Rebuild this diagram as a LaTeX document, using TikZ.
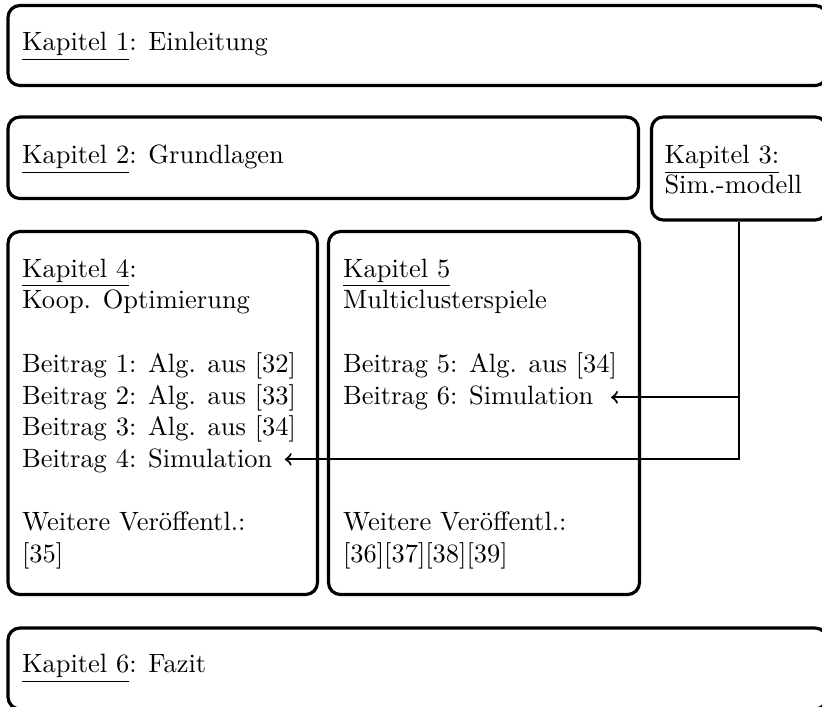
\documentclass[tikz,border=0pt]{standalone}
\usepackage{fontspec}
\usetikzlibrary{fit}
\begin{document}
\begin{tikzpicture}[x=0.378pt, y=-0.378pt,
  box/.style={draw, very thick, rounded corners=4.5pt, inner sep=0pt},
  txt/.style={anchor=base west, inner sep=0pt},
  link/.style={thick, ->}]
\useasboundingbox (0,0) rectangle (822,706);

% chapter frames
\node[box, fit={(8,5.5) (827,85.5)}] (k1) {};
\node[box, fit={(8,117) (638.5,198.5)}] (k2) {};
\node[box, fit={(651.5,117) (827,220)}] (k3) {};
\node[box, fit={(8,231.5) (317.5,594.5)}] (k4) {};
\node[box, fit={(328.5,231.5) (639.5,594.5)}] (k5) {};
\node[box, fit={(8,628) (827,709)}] (k6) {};

% chapter 1 and 2
\node[txt] (t1) at (21.5,50.5) {\underline{Kapitel 1}: Einleitung};
\node[txt] (t2) at (21.5,163.5) {\underline{Kapitel 2}: Grundlagen};

% chapter 3
\node[txt] (t3a) at (664,163.5) {\underline{Kapitel 3:}};
\node[txt] (t3b) at (664,193) {Sim.-modell};

% chapter 4
\node[txt] (t4a) at (21.5,277) {\underline{Kapitel 4}:};
\node[txt] (t4b) at (21.5,308.5) {Koop. Optimierung};
\node[txt] (t4c) at (21.5,372) {Beitrag 1: Alg. aus [32]};
\node[txt] (t4d) at (21.5,404) {Beitrag 2: Alg. aus [33]};
\node[txt] (t4e) at (21.5,435.5) {Beitrag 3: Alg. aus [34]};
\node[txt] (t4f) at (21.5,467) {Beitrag 4: Simulation};
\node[txt] (t4g) at (21.5,530) {Weitere Veröffentl.:};
\node[txt] (t4h) at (21.5,562) {[35]};

% chapter 5
\node[txt] (t5a) at (342.5,277) {\underline{Kapitel 5}};
\node[txt] (t5b) at (342.5,308.5) {Multiclusterspiele};
\node[txt] (t5c) at (342.5,372) {Beitrag 5: Alg. aus [34]};
\node[txt] (t5d) at (342.5,404) {Beitrag 6: Simulation};
\node[txt] (t5g) at (342.5,530) {Weitere Veröffentl.:};
\node[txt] (t5h) at (342.5,562) {[36][37][38][39]};

% chapter 6
\node[txt] (t6) at (21.5,672.5) {\underline{Kapitel 6}: Fazit};

% simulation model feeds both simulation contributions
\coordinate (split) at (k3.south |- 0,397.3);
\coordinate (turn) at (k3.south |- 0,459.3);
\draw[link] (k3.south) -- (turn) -- ([xshift=4.5pt]turn -| t4f.east);
\draw[link] (split) -- ([xshift=6.5pt]split -| t5d.east);
\end{tikzpicture}
\end{document}
